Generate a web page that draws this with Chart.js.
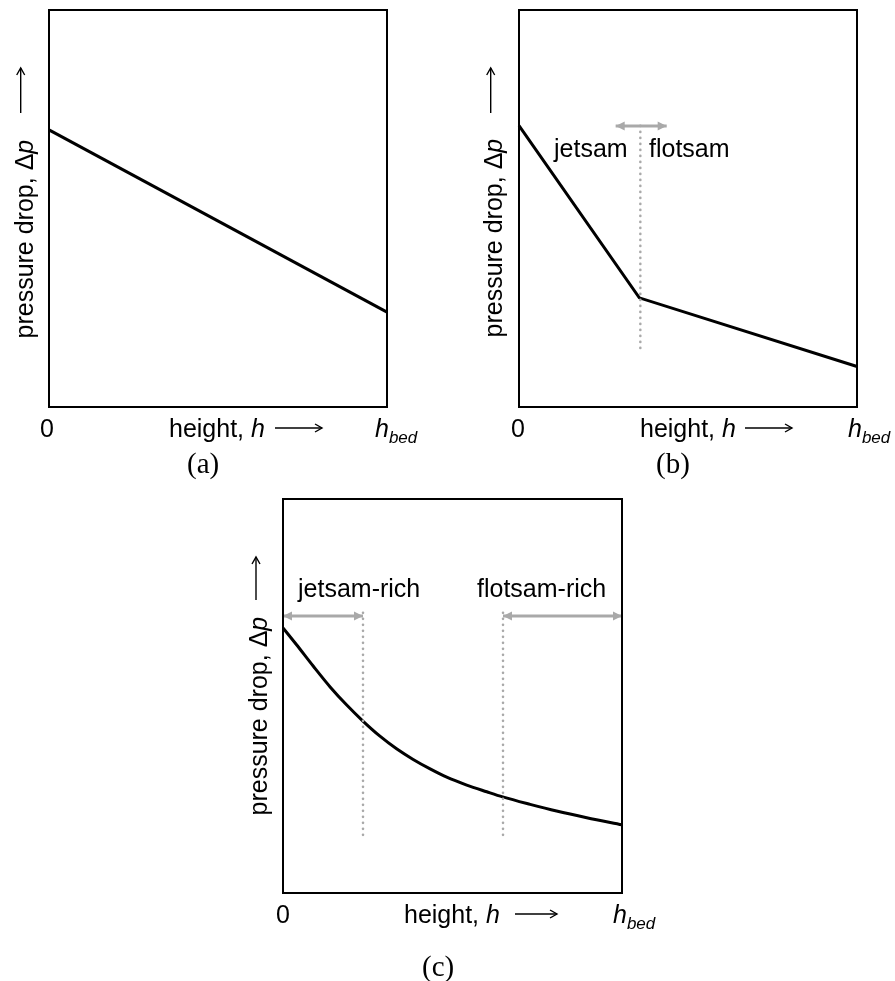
<!DOCTYPE html>
<html>
<head>
<meta charset="utf-8">
<script src="https://cdn.jsdelivr.net/npm/chart.js@4/dist/chart.umd.min.js"></script>
<style>
  html, body { margin: 0; padding: 0; background: #fff; }
  #page { position: relative; width: 895px; height: 981px; overflow: hidden; background: #fff; }
  .box { position: absolute; }
  .lbl { position: absolute; font-family: "Liberation Sans", Arial, Helvetica, sans-serif; font-size: 25px; line-height: 25px; height: 25px; color: #000; white-space: nowrap; }
  .lbl i { font-style: italic; }
  .lbl sub { font-size: 17px; font-style: italic; vertical-align: -6px; line-height: 0; }
  .cap { position: absolute; font-family: "Liberation Serif", "Times New Roman", serif; font-size: 29px; line-height: 29px; color: #000; white-space: nowrap; }
  svg.ov { position: absolute; left: 0; top: 0; pointer-events: none; }
</style>
</head>
<body>
<div id="page">
  <div class="box" id="wa"><canvas id="ca"></canvas></div>
  <div class="box" id="wb"><canvas id="cb"></canvas></div>
  <div class="box" id="wc"><canvas id="cc"></canvas></div>
  <svg class="ov" id="ov" width="895" height="981"></svg>
</div>
<script>
// ---------------- data (normalised 0..100) ----------------
// panel (a): linear pressure profile
const heightA   = [0, 100];
const pressureA = [69.8, 23.9];

// panel (b): two linear segments, kink at the jetsam/flotsam interface
const heightB   = [0, 35.6, 100];
const pressureB = [70.9, 27.5, 10.2];
const interfaceB = 35.9;          // dotted divider position
const dividerB   = [70.8, 13.5];  // dotted divider extent (y)
const arrowB     = [28.6, 43.7];  // double arrow extent (x)
const arrowBY    = 70.8;

// panel (c): smooth curved profile
const heightC   = [0, 4.0, 8.9, 13.9, 18.8, 23.5, 28.6, 33.5, 38.4, 43.4, 48.3, 54.2, 60.1, 64.8, 72.9, 80.7, 89.6, 100];
const pressureC = [67.3, 63.0, 57.6, 52.3, 47.7, 43.7, 39.8, 36.6, 33.9, 31.5, 29.4, 27.4, 25.7, 24.4, 22.5, 20.8, 19.1, 17.3];
const dividersC  = [23.6, 64.9];
const dividerC   = [71.1, 13.5];
const arrowC1    = [0, 23.6];
const arrowC2    = [64.9, 100];
const arrowCY    = 70.3;

// tick labels / texts
const xTickLabels = ['0', 'h', 'bed'];
const yTitle = 'pressure drop, Δ';
const xTitle = 'height, ';
const captions = ['(a)', '(b)', '(c)'];

// ---------------- helpers ----------------
const GRAY = '#a9a9a9';
const PAD = 8;

function pts(xs, ys) { return xs.map((x, i) => ({ x: x, y: ys[i] })); }

const framePlugin = {
  id: 'frame',
  afterDatasetsDraw(chart) {
    const ctx = chart.ctx, a = chart.chartArea;
    ctx.save();
    chart.data.datasets.forEach((ds, i) => {
      if (!ds.isArrow) return;
      const d = chart.getDatasetMeta(i).data;
      const p0 = d[0], p1 = d[d.length - 1];
      const L = 9, W = 4.5;
      ctx.fillStyle = ds.borderColor;
      [[p0, p1], [p1, p0]].forEach(([tip, from]) => {
        const ang = Math.atan2(tip.y - from.y, tip.x - from.x);
        ctx.beginPath();
        ctx.moveTo(tip.x, tip.y);
        ctx.lineTo(tip.x - L * Math.cos(ang) - W * Math.sin(ang), tip.y - L * Math.sin(ang) + W * Math.cos(ang));
        ctx.lineTo(tip.x - L * Math.cos(ang) + W * Math.sin(ang), tip.y - L * Math.sin(ang) - W * Math.cos(ang));
        ctx.closePath();
        ctx.fill();
      });
    });
    ctx.strokeStyle = '#000';
    ctx.lineWidth = 2;
    ctx.strokeRect(a.left, a.top, a.right - a.left, a.bottom - a.top);
    ctx.restore();
  }
};

function lineDs(data, extra) {
  return Object.assign({
    type: 'line', data: data, borderColor: '#000', borderWidth: 3,
    pointRadius: 0, fill: false, clip: false, tension: 0
  }, extra || {});
}
function dottedDs(x, yr) {
  return lineDs(pts([x, x], yr), { borderColor: GRAY, borderWidth: 2.6, borderDash: [0, 6], borderCapStyle: 'round' });
}
function arrowDs(xr, y) {
  return lineDs(pts(xr, [y, y]), { borderColor: GRAY, borderWidth: 3, isArrow: true });
}

function makeChart(id, wrapId, box, datasets) {
  const w = box.r - box.l, h = box.b - box.t;
  const wrap = document.getElementById(wrapId);
  wrap.style.left = (box.l - PAD) + 'px';
  wrap.style.top = (box.t - PAD) + 'px';
  const cv = document.getElementById(id);
  cv.width = w + 2 * PAD; cv.height = h + 2 * PAD;
  cv.style.width = cv.width + 'px'; cv.style.height = cv.height + 'px';
  return new Chart(cv, {
    type: 'scatter',
    data: { datasets: datasets },
    options: {
      responsive: false, animation: false, devicePixelRatio: 1,
      layout: { padding: PAD },
      plugins: { legend: { display: false }, tooltip: { enabled: false } },
      scales: {
        x: { type: 'linear', min: 0, max: 100, display: false },
        y: { type: 'linear', min: 0, max: 100, display: false }
      }
    },
    plugins: [framePlugin]
  });
}

const boxA = { l: 49, t: 10, r: 387, b: 407 };
const boxB = { l: 519, t: 10, r: 857, b: 407 };
const boxC = { l: 283, t: 499, r: 622, b: 893 };

makeChart('ca', 'wa', boxA, [lineDs(pts(heightA, pressureA))]);
makeChart('cb', 'wb', boxB, [
  dottedDs(interfaceB, dividerB),
  arrowDs(arrowB, arrowBY),
  lineDs(pts(heightB, pressureB))
]);
makeChart('cc', 'wc', boxC, [
  dottedDs(dividersC[0], dividerC),
  dottedDs(dividersC[1], dividerC),
  arrowDs(arrowC1, arrowCY),
  arrowDs(arrowC2, arrowCY),
  lineDs(pts(heightC, pressureC), { cubicInterpolationMode: 'monotone', borderJoinStyle: 'round' })
]);

// ---------------- text labels ----------------
const page = document.getElementById('page');
function addText(html, x, cy, opts) {
  opts = opts || {};
  const d = document.createElement('div');
  d.className = opts.cls || 'lbl';
  d.innerHTML = html;
  page.appendChild(d);
  const h = d.offsetHeight, w = d.offsetWidth;
  if (opts.rotate) {
    d.style.left = x + 'px';
    d.style.top = (cy - h / 2) + 'px';
    d.style.transformOrigin = '0 50%';
    d.style.transform = 'rotate(-90deg)';
  } else if (opts.center) {
    d.style.left = (x - w / 2) + 'px';
    d.style.top = (cy - h / 2) + 'px';
  } else {
    d.style.left = x + 'px';
    d.style.top = (cy - h / 2) + 'px';
  }
  return d;
}
const ov = document.getElementById('ov');
function addArrow(x1, y1, x2, y2) {
  const ns = 'http://www.w3.org/2000/svg';
  const l = document.createElementNS(ns, 'line');
  l.setAttribute('x1', x1); l.setAttribute('y1', y1);
  l.setAttribute('x2', x2); l.setAttribute('y2', y2);
  l.setAttribute('stroke', '#000'); l.setAttribute('stroke-width', '1.4');
  ov.appendChild(l);
  const ang = Math.atan2(y2 - y1, x2 - x1), L = 7, W = 4;
  const p = document.createElementNS(ns, 'path');
  const ax = x2 - L * Math.cos(ang), ay = y2 - L * Math.sin(ang);
  p.setAttribute('d', `M ${ax - W * Math.sin(ang)} ${ay + W * Math.cos(ang)} L ${x2} ${y2} L ${ax + W * Math.sin(ang)} ${ay - W * Math.cos(ang)}`);
  p.setAttribute('stroke', '#000'); p.setAttribute('stroke-width', '1.4'); p.setAttribute('fill', 'none');
  ov.appendChild(p);
}

const yTitleHtml = yTitle + '<i>p</i>';
const xTitleHtml = xTitle + '<i>h</i>';
const hbedHtml = '<i>' + xTickLabels[1] + '</i><sub>' + xTickLabels[2] + '</sub>';

// panel (a)
addText(yTitleHtml, 23.5, 338, { rotate: true });
addArrow(20.7, 113, 20.7, 68);
addText(xTickLabels[0], 47, 428.5, { center: true });
addText(xTitleHtml, 169, 428.5);
addArrow(275, 428, 322, 428);
addText(hbedHtml, 375, 428.5);
addText(captions[0], 203, 463.5, { cls: 'cap', center: true });

// panel (b)
addText(yTitleHtml, 493, 337, { rotate: true });
addArrow(490.7, 113, 490.7, 68);
addText(xTickLabels[0], 518, 428.5, { center: true });
addText(xTitleHtml, 640, 428.5);
addArrow(745, 428, 792, 428);
addText(hbedHtml, 848, 428.5);
addText(captions[1], 673, 463.5, { cls: 'cap', center: true });
addText('jetsam', 554, 148.5);
addText('flotsam', 649, 148.5);

// panel (c)
addText(yTitleHtml, 258, 815, { rotate: true });
addArrow(256, 600, 256, 557);
addText(xTickLabels[0], 283, 914.5, { center: true });
addText(xTitleHtml, 404, 914.5);
addArrow(515, 914, 557, 914);
addText(hbedHtml, 613, 914.5);
addText(captions[2], 438, 966, { cls: 'cap', center: true });
addText('jetsam-rich', 298, 588.5);
addText('flotsam-rich', 477, 588.5);
</script>
</body>
</html>
